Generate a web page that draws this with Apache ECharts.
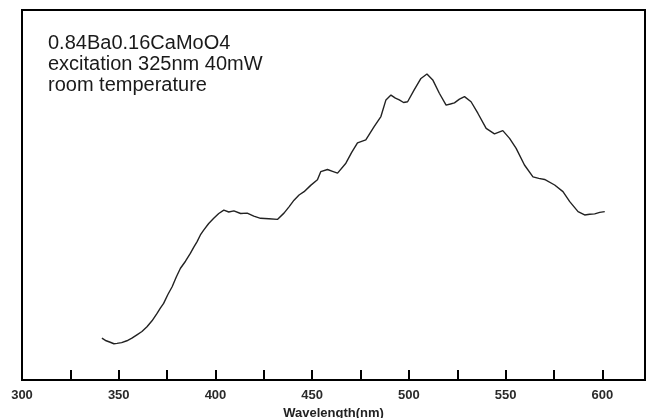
<!DOCTYPE html>
<html>
<head>
<meta charset="utf-8">
<script src="https://cdn.jsdelivr.net/npm/echarts@6/dist/echarts.min.js"></script>
<style>
html,body{margin:0;padding:0;background:#fff;}
#chart{width:649px;height:418px;}
</style>
</head>
<body>
<div id="chart"></div>
<script>
const annotationLines = ["0.84Ba0.16CaMoO4", "excitation 325nm 40mW", "room temperature"];
const xAxisName = "Wavelength(nm)";
const tickLabels = [300, 350, 400, 450, 500, 550, 600];

const wavelength = [341.3,343.5,345.6,347.5,349.1,351.5,354.2,356.8,359.4,362.0,
  364.6,367.2,369.8,371.5,373.2,375.4,377.6,379.8,381.9,384.5,
  387.0,388.8,390.5,392.2,393.9,396.5,399.1,401.7,404.3,406.9,
  409.5,413.0,416.4,419.8,423.3,427.6,432.0,435.4,438.0,440.6,
  443.2,445.8,449.2,452.7,454.4,457.9,460.5,463.1,467.4,470.4,
  473.4,477.7,482.0,485.5,488.1,490.7,493.0,495.0,497.2,499.3,
  502.7,506.2,509.3,512.3,515.7,519.2,521.4,523.5,526.1,528.7,
  532.1,535.6,539.9,544.2,548.5,552.0,555.4,559.7,564.1,567.1,
  570.1,575.3,579.6,583.1,587.4,590.8,593.4,596.0,598.6,601.2];
const intensity = [11.3,10.6,10.2,9.8,9.9,10.1,10.6,11.3,12.2,13.1,
  14.4,16.0,18.0,19.4,20.7,23.1,25.2,27.9,30.2,32.1,
  34.2,35.9,37.4,39.2,40.5,42.3,43.7,45.0,45.9,45.4,
  45.7,45.0,45.1,44.3,43.7,43.6,43.4,45.1,46.8,48.6,
  50.0,50.9,52.6,54.1,56.3,56.9,56.4,55.9,58.6,61.5,
  64.1,64.9,68.5,71.2,75.7,77.0,76.2,75.7,75.0,75.2,
  78.4,81.5,82.7,81.1,77.5,74.3,74.6,74.9,75.9,76.6,
  75.2,72.1,68.0,66.5,67.4,65.3,62.6,58.1,54.9,54.5,
  54.2,52.7,50.9,48.2,45.5,44.6,44.8,44.9,45.3,45.5];

const seriesData = wavelength.map((w, i) => [w, intensity[i]]);

const chart = echarts.init(document.getElementById('chart'), null, {renderer: 'canvas'});
chart.setOption({
  animation: false,
  backgroundColor: '#fff',
  title: {
    text: annotationLines.join('\n'),
    left: 48, top: 33, padding: 0,
    textStyle: {fontFamily: 'Liberation Sans', fontSize: 20, fontWeight: 'normal', color: '#1a1a1a', lineHeight: 21}
  },
  grid: {left: 22, right: 4, top: 10, bottom: 38, show: true, borderColor: '#000', borderWidth: 2,
    backgroundColor: 'transparent', outerBoundsMode: 'none', containLabel: false},
  xAxis: {
    type: 'value', min: 300, max: 622, interval: 25,
    name: xAxisName, nameLocation: 'middle', nameGap: 26,
    nameTextStyle: {fontFamily: 'Liberation Sans', fontSize: 13, fontWeight: 'bold', color: '#222'},
    axisLine: {show: true, lineStyle: {color: '#000', width: 2}},
    axisTick: {show: true, inside: true, length: 10, lineStyle: {color: '#000', width: 2}},
    axisLabel: {
      margin: 9, showMaxLabel: false,
      fontFamily: 'Liberation Sans', fontSize: 13, fontWeight: 'bold', color: '#2a2a2a',
      formatter: v => tickLabels.indexOf(v) >= 0 ? String(v) : ''
    },
    splitLine: {show: false}
  },
  yAxis: {
    type: 'value', min: 0, max: 100,
    axisLine: {show: false}, axisTick: {show: false}, axisLabel: {show: false}, splitLine: {show: false}
  },
  series: [{
    type: 'line', data: seriesData, showSymbol: false, smooth: false,
    lineStyle: {color: '#222', width: 1.4}
  }]
});
</script>
</body>
</html>
